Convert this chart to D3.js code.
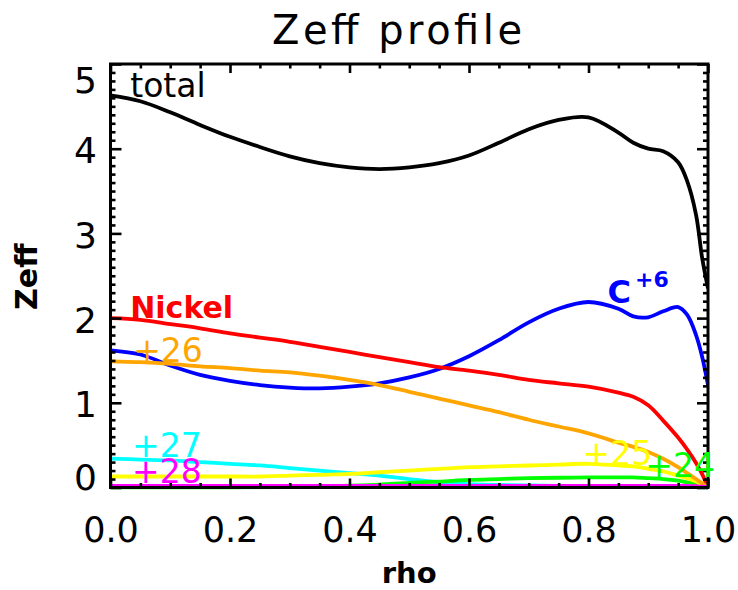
<!DOCTYPE html>
<html>
<head>
<meta charset="utf-8">
<script src="https://cdn.jsdelivr.net/npm/d3@7"></script>
<style>
  html, body { margin: 0; padding: 0; background: #fff; }
  svg { display: block; font-family: "DejaVu Sans", sans-serif; }
</style>
</head>
<body>
<svg id="chart" width="738" height="590"></svg>
<script>
// Radial grid (normalised minor radius)
const rho = [0, 0.05, 0.1, 0.15, 0.2, 0.25, 0.3, 0.35, 0.4, 0.45, 0.5, 0.55, 0.6, 0.65,
             0.7, 0.75, 0.8, 0.85, 0.875, 0.9, 0.925, 0.95, 0.965, 0.98, 0.99, 1.0];

// Zeff contributions on the rho grid
const total  = [4.63, 4.56, 4.43, 4.28, 4.14, 4.02, 3.91, 3.83, 3.78, 3.76, 3.78, 3.83, 3.92, 4.07,
                4.23, 4.34, 4.37, 4.19, 4.07, 4.00, 3.97, 3.84, 3.62, 3.22, 2.72, 2.35];
const carbon6 = [1.62, 1.57, 1.44, 1.33, 1.26, 1.21, 1.18, 1.17, 1.19, 1.23, 1.30, 1.40, 1.55, 1.74,
                 1.95, 2.11, 2.19, 2.11, 2.02, 2.01, 2.08, 2.13, 2.04, 1.80, 1.55, 1.21];
const nickel = [2.00, 1.98, 1.93, 1.88, 1.82, 1.77, 1.72, 1.66, 1.60, 1.54, 1.48, 1.42, 1.38, 1.33,
                1.27, 1.23, 1.19, 1.12, 1.07, 0.97, 0.79, 0.59, 0.45, 0.29, 0.16, 0.00];
const ni26   = [1.49, 1.48, 1.46, 1.43, 1.41, 1.38, 1.36, 1.32, 1.27, 1.21, 1.13, 1.05, 0.97, 0.89,
                0.80, 0.72, 0.64, 0.53, 0.48, 0.42, 0.34, 0.24, 0.17, 0.10, 0.05, 0.00];
const ni27   = [0.34, 0.33, 0.32, 0.30, 0.28, 0.26, 0.23, 0.20, 0.17, 0.14, 0.10, 0.06, 0.04, 0.03,
                0.025, 0.02, 0.02, 0.02, 0.02, 0.02, 0.015, 0.01, 0.01, 0.005, 0.0, 0.0];
const ni25   = [0.13, 0.13, 0.13, 0.13, 0.13, 0.13, 0.14, 0.15, 0.16, 0.18, 0.20, 0.22, 0.24, 0.25,
                0.26, 0.27, 0.28, 0.26, 0.25, 0.22, 0.19, 0.14, 0.11, 0.07, 0.04, 0.00];
const ni24   = [0.0, 0.0, 0.0, 0.0, 0.0, 0.003, 0.006, 0.012, 0.022, 0.035, 0.055, 0.07, 0.09, 0.10,
                0.11, 0.115, 0.12, 0.12, 0.12, 0.11, 0.10, 0.08, 0.06, 0.04, 0.02, 0.0];
const ni28   = [0.02, 0.02, 0.02, 0.02, 0.02, 0.02, 0.02, 0.02, 0.02, 0.02, 0.02, 0.02, 0.02, 0.02,
                0.02, 0.02, 0.02, 0.02, 0.02, 0.02, 0.02, 0.02, 0.02, 0.015, 0.01, 0.0];

// Axis ticks
const xTicks = [0, 0.2, 0.4, 0.6, 0.8, 1.0];
const xTickLabels = ["0.0", "0.2", "0.4", "0.6", "0.8", "1.0"];
const yTicks = [0, 1, 2, 3, 4, 5];
const yTickLabels = ["0", "1", "2", "3", "4", "5"];

// Series: name, values, colour (drawing order)
const seriesNames  = ["total", "C+6", "Nickel", "+27", "+24", "+25", "+26", "+28"];
const seriesValues = [total, carbon6, nickel, ni27, ni24, ni25, ni26, ni28];
const seriesColors = ["#000000", "#0000ff", "#ff0000", "#00ffff", "#00ff00", "#ffff00", "#ffa500", "#ff00ff"];

// Curve labels anchored in data coordinates (rho, Zeff at baseline)
const labelText   = ["total", "Nickel", "+26", "+27", "+28", "+25", "+24"];
const labelRho    = [0.033, 0.033, 0.038, 0.036, 0.036, 0.790, 0.895];
const labelZeff   = [4.615, 2.00, 1.48, 0.36, 0.055, 0.265, 0.125];
const labelColor  = ["#000000", "#ff0000", "#ffa500", "#00ffff", "#ff00ff", "#ffff00", "#00ff00"];
const labelBold   = [false, true, false, false, false, false, false];

const svg = d3.select("#chart");
const plotLeft = 110.5, plotRight = 708, plotTop = 64, plotBottom = 487.5;

const x = d3.scaleLinear().domain([0, 1]).range([plotLeft, plotRight]);
const y = d3.scaleLinear().domain([0, 5]).range([plotBottom, plotTop]);

// Title
svg.append("text")
  .attr("x", 272).attr("y", 44)
  .attr("font-size", 40)
  .attr("textLength", 250).attr("lengthAdjust", "spacing")
  .attr("fill", "#000")
  .text("Zeff profile");

// Clip curves to the plot box
svg.append("clipPath").attr("id", "plotclip")
  .append("rect").attr("x", plotLeft).attr("y", plotTop - 2)
  .attr("width", plotRight - plotLeft).attr("height", plotBottom - plotTop + 4);

const line = d3.line()
  .x((d, i) => x(rho[i]))
  .y(d => y(d))
  .curve(d3.curveCatmullRom.alpha(0.5));

const curves = svg.append("g").attr("clip-path", "url(#plotclip)");
seriesValues.forEach((vals, k) => {
  curves.append("path")
    .datum(vals)
    .attr("fill", "none")
    .attr("stroke", seriesColors[k])
    .attr("stroke-width", 3.8)
    .attr("stroke-linejoin", "round")
    .attr("d", line);
});

// Axes: major ticks drawn inward, plus minor ticks
const xMinor = d3.range(0, 1.0001, 0.05).filter(v => Math.abs(v * 5 - Math.round(v * 5)) > 1e-6);
const yMinor = d3.range(0, 5.0001, 0.1).filter(v => Math.abs(v - Math.round(v)) > 1e-6);

function styleAxis(g) {
  g.select(".domain").remove();
  g.selectAll(".tick line").attr("stroke", "#000").attr("stroke-width", 2.6);
}

// bottom
const gb = svg.append("g").attr("transform", `translate(0,${plotBottom})`)
  .call(d3.axisBottom(x).tickValues(xTicks).tickSize(-9)
        .tickFormat((d, i) => xTickLabels[i]));
styleAxis(gb);
gb.selectAll(".tick text")
  .attr("y", 54.5).attr("dy", null)
  .attr("font-size", 35).attr("font-family", "DejaVu Sans, sans-serif")
  .attr("fill", "#000");
svg.append("g").attr("transform", `translate(0,${plotBottom})`)
  .call(d3.axisBottom(x).tickValues(xMinor).tickSize(-4.5).tickFormat(""))
  .call(styleAxis);

// top
svg.append("g").attr("transform", `translate(0,${plotTop})`)
  .call(d3.axisTop(x).tickValues(xTicks).tickSize(-9).tickFormat(""))
  .call(styleAxis);
svg.append("g").attr("transform", `translate(0,${plotTop})`)
  .call(d3.axisTop(x).tickValues(xMinor).tickSize(-4.5).tickFormat(""))
  .call(styleAxis);

// left
const gl = svg.append("g").attr("transform", `translate(${plotLeft},0)`)
  .call(d3.axisLeft(y).tickValues(yTicks).tickSize(-11)
        .tickFormat((d, i) => yTickLabels[i]));
styleAxis(gl);
gl.selectAll(".tick text")
  .attr("x", -13.5)
  .attr("dy", null)
  .attr("y", d => d === 0 ? 1.5 : (d === 5 ? 28 : 14))
  .attr("font-size", 36).attr("font-family", "DejaVu Sans, sans-serif")
  .attr("fill", "#000");
svg.append("g").attr("transform", `translate(${plotLeft},0)`)
  .call(d3.axisLeft(y).tickValues(yMinor).tickSize(-5).tickFormat(""))
  .call(styleAxis);

// right
svg.append("g").attr("transform", `translate(${plotRight},0)`)
  .call(d3.axisRight(y).tickValues(yTicks).tickSize(-11).tickFormat(""))
  .call(styleAxis);
svg.append("g").attr("transform", `translate(${plotRight},0)`)
  .call(d3.axisRight(y).tickValues(yMinor).tickSize(-5).tickFormat(""))
  .call(styleAxis);

// Plot frame
svg.append("rect")
  .attr("x", plotLeft).attr("y", plotTop)
  .attr("width", plotRight - plotLeft).attr("height", plotBottom - plotTop)
  .attr("fill", "none").attr("stroke", "#000").attr("stroke-width", 3);

// Axis titles
svg.append("text")
  .attr("transform", `translate(37,${(plotTop + plotBottom) / 2 + 1}) rotate(-90)`)
  .attr("text-anchor", "middle")
  .attr("font-size", 30).attr("font-weight", "bold")
  .attr("fill", "#000")
  .text("Zeff");
svg.append("text")
  .attr("x", (plotLeft + plotRight) / 2).attr("y", 583)
  .attr("text-anchor", "middle")
  .attr("font-size", 29).attr("font-weight", "bold")
  .attr("fill", "#000")
  .text("rho");

// Curve labels
labelText.forEach((t, i) => {
  svg.append("text")
    .attr("x", x(labelRho[i])).attr("y", y(labelZeff[i]))
    .attr("font-size", labelBold[i] ? 30 : 33)
    .attr("font-weight", labelBold[i] ? "bold" : "normal")
    .attr("fill", labelColor[i])
    .text(t);
});

// C+6 label with superscript charge
const cLabel = svg.append("text")
  .attr("x", x(0.832)).attr("y", y(2.18))
  .attr("font-weight", "bold")
  .attr("fill", "#0000ff");
cLabel.append("tspan").attr("font-size", 32).text("C");
cLabel.append("tspan").attr("font-size", 22).attr("dx", 4).attr("dy", -16).text("+6");
</script>
</body>
</html>
